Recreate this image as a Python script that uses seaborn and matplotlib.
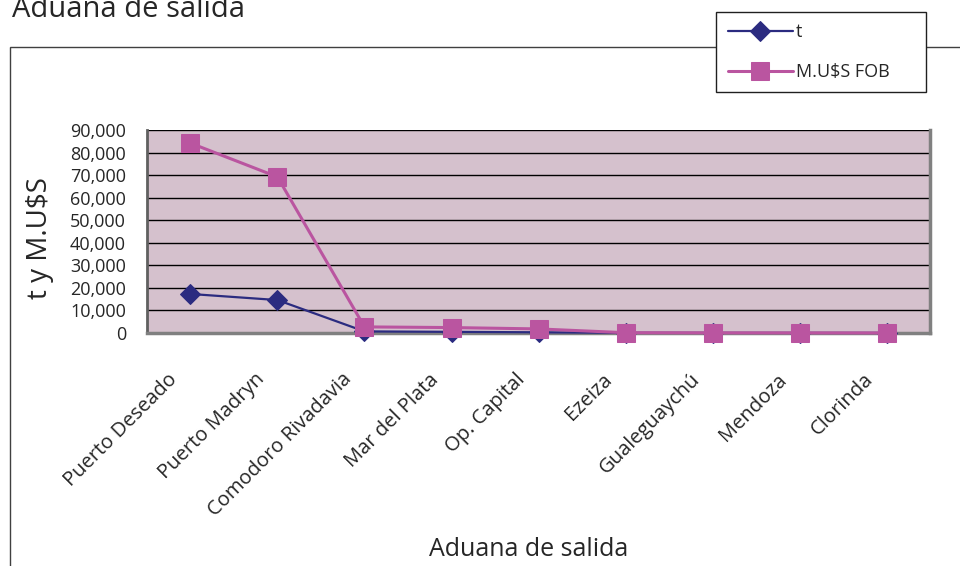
#!/usr/bin/env python3
import matplotlib
matplotlib.use('Agg')
import matplotlib.pyplot as plt
from matplotlib.patches import Rectangle
from matplotlib.ticker import FuncFormatter, MultipleLocator
from matplotlib.transforms import ScaledTranslation
import numpy as np
import pandas as pd
import seaborn as sns

aduanas = ['Puerto Deseado', 'Puerto Madryn', 'Comodoro Rivadavia',
           'Mar del Plata', 'Op. Capital', 'Ezeiza', 'Gualeguaychú',
           'Mendoza', 'Clorinda']
toneladas = [17300, 14600, 700, 500, 300, 60, 30, 20, 10]
millones_fob = [84200, 69200, 2700, 2400, 1800, 120, 60, 40, 20]

df = pd.DataFrame({'pos': np.arange(len(aduanas)),
                   't': toneladas, 'fob': millones_fob})

sns.set_style('white')
plt.rcParams['font.family'] = ['Open Sans', 'DejaVu Sans']

fig = plt.figure(figsize=(9.6, 5.66), dpi=100)
ax = fig.add_axes([0.153, 0.4117, 0.816, 0.3586])
ax.set_facecolor('#D5C1CD')

navy = '#2B2B80'
pink = '#BA55A0'
sns.lineplot(data=df, x='pos', y='t', ax=ax, color=navy, lw=1.6,
             marker='D', markersize=10, markeredgecolor=navy, label='t',
             clip_on=False, zorder=3, legend=False)
sns.lineplot(data=df, x='pos', y='fob', ax=ax, color=pink, lw=2.2,
             marker='s', markersize=13, markeredgecolor=pink,
             label='M.U$S FOB', clip_on=False, zorder=4, legend=False)

ax.set_xlim(-0.5, len(aduanas) - 0.5)
ax.set_ylim(0, 90000)
ax.yaxis.set_major_locator(MultipleLocator(10000))
ax.yaxis.set_major_formatter(FuncFormatter(lambda v, p: f'{int(v):,}'))
ax.grid(axis='y', color='black', lw=1)
ax.set_axisbelow(True)

ax.set_xticks(np.arange(len(aduanas)))
ax.set_xticklabels(aduanas, rotation=45, ha='right', va='center',
                   rotation_mode='anchor', fontsize=14.5)
ax.set_xticks(np.arange(-0.5, len(aduanas)), minor=True)
ax.tick_params(axis='x', which='major', length=0, pad=12)
ax.tick_params(axis='x', which='minor', length=6, width=1, color='black',
               direction='out')
ax.tick_params(axis='y', length=5, width=1, color='black', direction='out',
               labelsize=13, pad=10)
# nudge the slanted labels a bit left and down, like the original
shift = ScaledTranslation(-0.16, -0.27, fig.dpi_scale_trans)
for tick in ax.xaxis.get_major_ticks():
    tick.label1.set_transform(tick.label1.get_transform() + shift)

for side in ['right', 'bottom']:
    ax.spines[side].set_color('#808080')
    ax.spines[side].set_linewidth(2.5)
ax.spines['left'].set_color('#606060')
ax.spines['left'].set_linewidth(2)
ax.spines['top'].set_visible(False)
ax.set_xlabel('')
ax.set_ylabel('')

fig.text(529 / 960, 1 - 550 / 566, 'Aduana de salida', fontsize=18,
         ha='center', va='center')
fig.text(40 / 960, 1 - 238 / 566, 't y M.U$S', fontsize=20, rotation=90,
         ha='center', va='center')

# outer chart frame
fig.patches.append(Rectangle((10 / 960, -0.05), 1.0, 0.967, fill=False,
                             edgecolor='#404040', lw=1,
                             transform=fig.transFigure, zorder=0))

fig.text(12 / 960, 1 - 17 / 566, 'Aduana de salida', fontsize=21,
         ha='left', va='baseline')

# legend box
fig.patches.append(Rectangle((716 / 960, 1 - 92 / 566), 210 / 960, 80 / 566,
                             facecolor='white', edgecolor='#202020', lw=1,
                             transform=fig.transFigure, zorder=1))
handles = ax.get_lines()[:2]
leg = fig.legend(handles=handles, labels=['t', 'M.U$S FOB'],
                 loc='upper left', bbox_to_anchor=(714 / 960, 1 - 9 / 566),
                 frameon=False, fontsize=13, handlelength=3.55,
                 borderpad=0.3, labelspacing=1.2, handletextpad=0.2)
leg.set_zorder(5)

fig.savefig('out.png', dpi=100)
